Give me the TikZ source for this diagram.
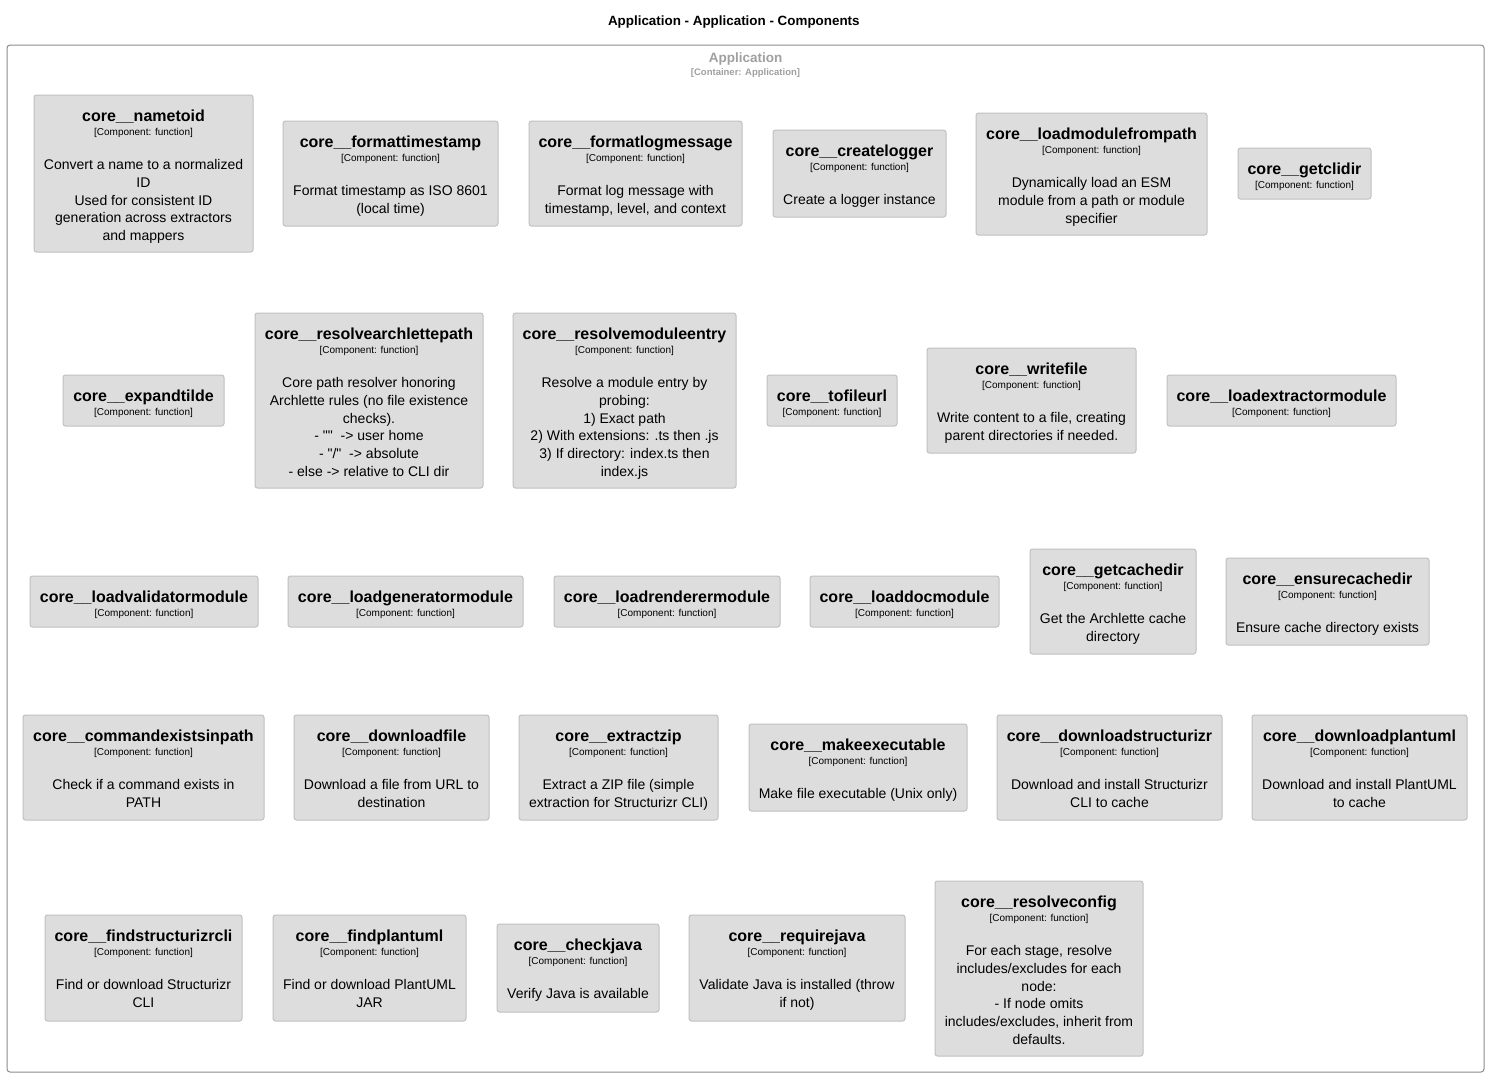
\documentclass[tikz,border=0pt]{standalone}
\usepackage{fontspec}
\setmainfont{Liberation Sans}[Ligatures=TeXOff]
\definecolor{boxfill}{RGB}{221,221,221}
\definecolor{boxline}{RGB}{192,192,192}
\definecolor{contline}{RGB}{140,140,140}
\definecolor{conttext}{RGB}{160,160,160}
\tikzset{
  compbox/.style={draw=boxline, fill=boxfill, rounded corners=2.5pt, inner sep=0pt, outer sep=0pt, line width=1pt},
  nm/.style={font=\fontsize{16}{19}\selectfont\bfseries, inner sep=0pt, text=black},
  tg/.style={font=\fontsize{10}{12}\selectfont, inner sep=0pt, text=black},
  ds/.style={font=\fontsize{14}{17.75}\selectfont, align=center, inner sep=0pt, text=black},
  contbox/.style={draw=contline, rounded corners=3pt, line width=1pt, inner sep=0pt, outer sep=0pt},
}
% component with description: id, x1, y1, x2, y2, description
\newcommand\mkcomp[6]{%
  \node[compbox, minimum width={(#4-#2)*1pt}, minimum height={(#5-#3)*1pt}, anchor=north west] (#1) at (#2,#3) {};
  \node[nm, anchor=base] (#1-name) at ([yshift=-26pt]#1.north) {core\_\_#1};
  \node[tg, anchor=base] (#1-tag) at ([yshift=-40.5pt]#1.north) {[Component: function]};
  \node[ds, anchor=north] (#1-desc) at ([yshift=-61.5pt]#1.north) {\rule{0pt}{13pt}#6};
}
% component without description
\newcommand\mkcompb[5]{%
  \node[compbox, minimum width={(#4-#2)*1pt}, minimum height={(#5-#3)*1pt}, anchor=north west] (#1) at (#2,#3) {};
  \node[nm, anchor=base] (#1-name) at ([yshift=-26pt]#1.north) {core\_\_#1};
  \node[tg, anchor=base] (#1-tag) at ([yshift=-40.5pt]#1.north) {[Component: function]};
}
\begin{document}
\begin{tikzpicture}[x=1pt,y=-1pt]
\useasboundingbox (0,0) rectangle (1489,1077);
\fill[white] (0,0) rectangle (1489,1077);
\node[font=\fontsize{13.4}{16}\selectfont\bfseries, anchor=base, inner sep=0pt] (title) at (733.8,25) {Application - Application - Components};
\node[contbox, minimum width=1477pt, minimum height=1027pt, anchor=north west] (app) at (7,45) {};
\node[font=\fontsize{13.5}{16}\selectfont\bfseries, text=conttext, anchor=base, inner sep=0pt] (app-name) at (745.5,62.3) {Application};
\node[font=\fontsize{9.5}{11}\selectfont\bfseries, text=conttext, anchor=base, inner sep=0pt] (app-tag) at (745.5,75.5) {[Container: Application]};

% Row 1
\mkcomp{nametoid}{34}{95}{253}{252}{Convert a name to a normalized\\ID\\Used for consistent ID\\generation across extractors\\and mappers}
\mkcomp{formattimestamp}{283}{121}{498}{226}{Format timestamp as ISO 8601\\(local time)}
\mkcomp{formatlogmessage}{529}{121}{742}{226}{Format log message with\\timestamp, level, and context}
\mkcomp{createlogger}{773}{130}{946}{217}{Create a logger instance}
\mkcomp{loadmodulefrompath}{976}{113}{1207}{235}{Dynamically load an ESM\\module from a path or module\\specifier}
\mkcompb{getclidir}{1238}{148}{1371}{199}

% Row 2
\mkcompb{expandtilde}{63}{375}{224}{426}
\mkcomp{resolvearchlettepath}{255}{313}{483}{488}{Core path resolver honoring\\Archlette rules (no file existence\\checks).\\- ""\ \ -> user home\\- "/"\ \ -> absolute\\- else -> relative to CLI dir}
\mkcomp{resolvemoduleentry}{513}{313}{736}{488}{Resolve a module entry by\\probing:\\1) Exact path\\2) With extensions: .ts then .js\\3) If directory: index.ts then\\index.js}
\mkcompb{tofileurl}{767}{375}{897}{426}
\mkcomp{writefile}{927}{348}{1136}{453}{Write content to a file, creating\\parent directories if needed.}
\mkcompb{loadextractormodule}{1167}{375}{1396}{426}

% Row 3
\mkcompb{loadvalidatormodule}{30}{576}{258}{627}
\mkcompb{loadgeneratormodule}{288}{576}{523}{627}
\mkcompb{loadrenderermodule}{554}{576}{780}{627}
\mkcompb{loaddocmodule}{810}{576}{999}{627}
\mkcomp{getcachedir}{1030}{549}{1196}{654}{Get the Archlette cache\\directory}
\mkcomp{ensurecachedir}{1226}{558}{1429}{645}{Ensure cache directory exists}

% Row 4
\mkcomp{commandexistsinpath}{23}{715}{264}{820}{Check if a command exists in\\PATH}
\mkcomp{downloadfile}{294}{715}{489}{820}{Download a file from URL to\\destination}
\mkcomp{extractzip}{519}{715}{718}{820}{Extract a ZIP file (simple\\extraction for Structurizr CLI)}
\mkcomp{makeexecutable}{749}{724}{967}{811}{Make file executable (Unix only)}
\mkcomp{downloadstructurizr}{997}{715}{1222}{820}{Download and install Structurizr\\CLI to cache}
\mkcomp{downloadplantuml}{1252}{715}{1467}{820}{Download and install PlantUML\\to cache}

% Row 5
\mkcomp{findstructurizrcli}{45}{915}{242}{1021}{Find or download Structurizr\\CLI}
\mkcomp{findplantuml}{273}{915}{466}{1021}{Find or download PlantUML\\JAR}
\mkcomp{checkjava}{497}{924}{659}{1012}{Verify Java is available}
\mkcomp{requirejava}{689}{915}{905}{1021}{Validate Java is installed (throw\\if not)}
\mkcomp{resolveconfig}{935}{881}{1143}{1056}{For each stage, resolve\\includes/excludes for each\\node:\\- If node omits\\includes/excludes, inherit from\\defaults.}
\end{tikzpicture}
\end{document}
